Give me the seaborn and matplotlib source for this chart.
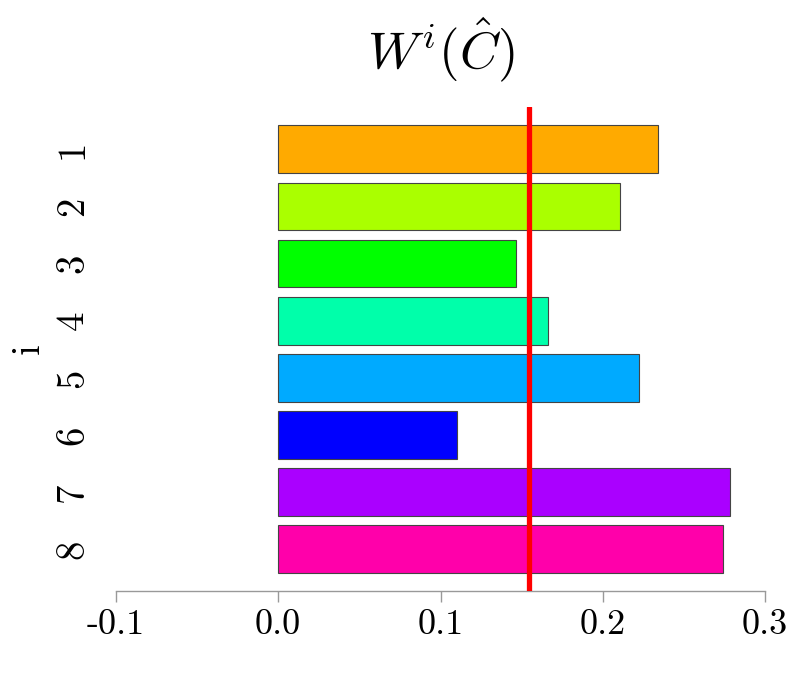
import matplotlib
matplotlib.use("Agg")
import matplotlib.pyplot as plt
import seaborn as sns
import pandas as pd

categories = ["1", "2", "3", "4", "5", "6", "7", "8"]
values = [0.2343, 0.2104, 0.1465, 0.1662, 0.2223, 0.1102, 0.2784, 0.2741]
colors = ["#FFAA00", "#AAFF00", "#00FF00", "#00FFAA", "#00AAFF", "#0000FF", "#AA00FF", "#FF00AA"]
ref_value = 0.1543
xticks = [-0.1, 0.0, 0.1, 0.2, 0.3]
xtick_labels = ["-0.1", "0.0", "0.1", "0.2", "0.3"]

sns.set_style("white")
plt.rcParams["mathtext.fontset"] = "cm"
plt.rcParams["font.family"] = ["cmr10", "DejaVu Serif"]
plt.rcParams["text.color"] = "black"
plt.rcParams["xtick.labelcolor"] = "black"
plt.rcParams["ytick.labelcolor"] = "black"
plt.rcParams["axes.labelcolor"] = "black"

df = pd.DataFrame({"i": categories, "val": values})

fig = plt.figure(figsize=(8, 7), dpi=100)
ax = fig.add_axes([116/800, 1-591/700, (765-116)/800, (591-107)/700])

sns.barplot(data=df, x="val", y="i", hue="i", palette=colors, order=categories,
            legend=False, width=0.833, edgecolor="#444444", linewidth=0.8, ax=ax,
            orient="h", saturation=1)

ax.axvline(ref_value, color="#FF0000", lw=3.8, zorder=5)

for s in ["top", "right", "left"]:
    ax.spines[s].set_visible(False)
ax.spines["bottom"].set_color("#999999")
ax.spines["bottom"].set_linewidth(1)

ax.set_xlim(-0.1, 0.3)
ax.set_ylim(7.73, -0.74)
ax.set_xticks(xticks)
ax.set_xticklabels(xtick_labels, fontsize=26, fontfamily="cmr10")
ax.set_yticks(range(len(categories)))
ax.set_yticklabels(categories, fontsize=28, fontfamily="cmr10", rotation=90, va="center")
ax.tick_params(axis="x", bottom=True, length=8, width=1, color="#999999", pad=5)
ax.tick_params(axis="y", left=False, length=0, pad=18)

ax.set_xlabel("")
ax.set_ylabel("i", fontsize=28, fontfamily="cmr10", va="center", ha="center")
ax.yaxis.set_label_coords(-0.134, 0.5)
ax.set_title("$W^i(\\hat{C})$", fontsize=38, pad=27, color="black")

fig.savefig("out.png", dpi=100, facecolor="white")
